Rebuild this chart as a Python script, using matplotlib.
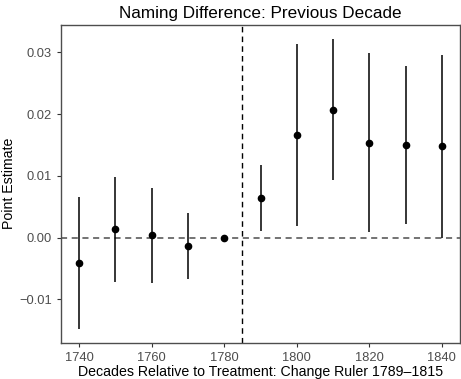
import matplotlib
matplotlib.use("Agg")
import matplotlib.pyplot as plt

# decades and point estimates with confidence bounds
decades = [1740, 1750, 1760, 1770, 1780, 1790, 1800, 1810, 1820, 1830, 1840]
estimate = [-0.0041, 0.0014, 0.0004, -0.0014, 0.0, 0.0065, 0.0166, 0.0207, 0.0154, 0.0150, 0.0148]
upper = [0.0066, 0.0099, 0.0080, 0.0040, 0.0, 0.0118, 0.0313, 0.0322, 0.0299, 0.0278, 0.0295]
lower = [-0.0148, -0.0072, -0.0074, -0.0067, 0.0, 0.0011, 0.0019, 0.0093, 0.0009, 0.0022, 0.0]

plt.rcParams['font.family'] = ['Liberation Sans', 'DejaVu Sans']

fig = plt.figure(figsize=(4.61, 3.79), dpi=100)
ax = fig.add_axes([61 / 461, 36 / 379, 399 / 461, 318.5 / 379])

ax.axhline(0, color='#4d4d4d', linestyle=(0, (4, 3)), linewidth=1.1, zorder=1)
ax.axvline(1785, color='black', linestyle=(0, (4, 3)), linewidth=1.0, zorder=1)
ax.vlines(decades, lower, upper, color='black', linewidth=1.1, zorder=2)
ax.plot(decades, estimate, 'o', color='black', markersize=4.5, zorder=3)

ax.set_xlim(1735, 1845)
ax.set_ylim(-0.01704, 0.0345)
ax.set_xticks([1740, 1760, 1780, 1800, 1820, 1840])
ax.set_yticks([-0.01, 0.0, 0.01, 0.02, 0.03])
ax.set_yticklabels(['\u22120.01', '0.00', '0.01', '0.02', '0.03'])

for s in ax.spines.values():
    s.set_color('#4d4d4d')
    s.set_linewidth(1.0)
ax.tick_params(colors='#333333', labelcolor='#4d4d4d', labelsize=9.3, length=3, width=0.8)

ax.set_title('Naming Difference: Previous Decade', fontsize=12.3, pad=5)
ax.set_xlabel('Decades Relative to Treatment: Change Ruler 1789\u20131815', fontsize=10.2, labelpad=1)
ax.set_ylabel('Point Estimate', fontsize=10.2, labelpad=2)

fig.savefig('out.png', dpi=100)
